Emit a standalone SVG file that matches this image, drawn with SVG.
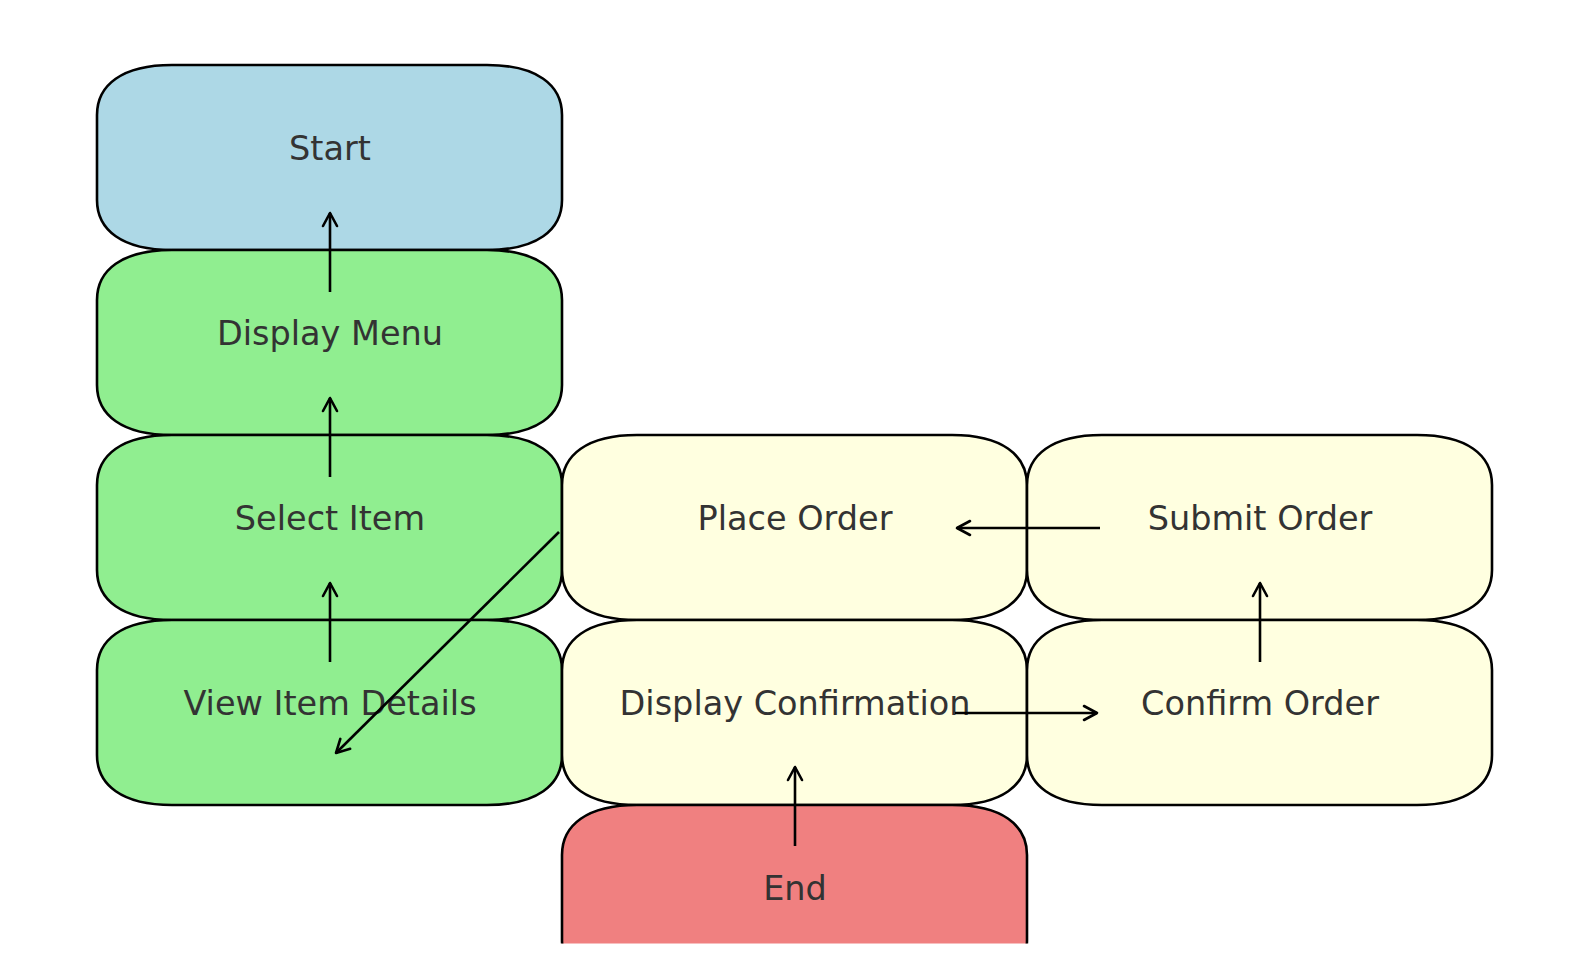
<svg xmlns="http://www.w3.org/2000/svg" width="1589" height="964" viewBox="0 0 1589 964">
<style>
.box{stroke:#000;stroke-width:2.6}
.lbl{font-family:"DejaVu Sans",sans-serif;font-size:33.5px;fill:#333333;text-anchor:middle}
.edge{stroke:#000;stroke-width:2.6;fill:none;marker-end:url(#arr)}
</style>
<defs>
<marker id="arr" markerUnits="userSpaceOnUse" markerWidth="30" markerHeight="30" refX="0" refY="0" viewBox="-20 -15 30 30" orient="auto" overflow="visible">
<path d="M-13,-7 L0,0 L-13,7" fill="none" stroke="#000" stroke-width="2.6" stroke-linecap="round" stroke-linejoin="round"/>
</marker>
<path id="shape" d="M75,0 H390 C440,0 465,20 465,50 V135 C465,165 440,185 390,185 H75 C25,185 0,165 0,135 V50 C0,20 25,0 75,0 Z"/>
<clipPath id="clip"><rect x="0" y="0" width="1589" height="943.5"/></clipPath>
</defs>
<rect width="1589" height="964" fill="#fff"/>
<g clip-path="url(#clip)">
<g id="start"><use href="#shape" class="box" x="97" y="65" fill="#ADD8E6"/><text class="lbl" x="330" y="160">Start</text></g>
<g id="display-menu"><use href="#shape" class="box" x="97" y="250" fill="#90EE90"/><text class="lbl" x="330" y="345">Display Menu</text></g>
<g id="select-item"><use href="#shape" class="box" x="97" y="435" fill="#90EE90"/><text class="lbl" x="330" y="530">Select Item</text></g>
<g id="view-item-details"><use href="#shape" class="box" x="97" y="620" fill="#90EE90"/><text class="lbl" x="330" y="715">View Item Details</text></g>
<g id="place-order"><use href="#shape" class="box" x="562" y="435" fill="#FFFFE0"/><text class="lbl" x="795" y="530">Place Order</text></g>
<g id="submit-order"><use href="#shape" class="box" x="1027" y="435" fill="#FFFFE0"/><text class="lbl" x="1260" y="530">Submit Order</text></g>
<g id="display-confirmation"><use href="#shape" class="box" x="562" y="620" fill="#FFFFE0"/><text class="lbl" x="795" y="715">Display Confirmation</text></g>
<g id="confirm-order"><use href="#shape" class="box" x="1027" y="620" fill="#FFFFE0"/><text class="lbl" x="1260" y="715">Confirm Order</text></g>
<g id="end"><use href="#shape" class="box" x="562" y="805" fill="#F08080"/><text class="lbl" x="795" y="900">End</text></g>
</g>
<g id="connectors">
<line class="edge" x1="330" y1="292" x2="330" y2="213"/>
<line class="edge" x1="330" y1="477" x2="330" y2="398"/>
<line class="edge" x1="330" y1="662" x2="330" y2="583"/>
<line class="edge" x1="559" y1="532" x2="336" y2="753"/>
<line class="edge" x1="1100" y1="528" x2="957" y2="528"/>
<line class="edge" x1="955" y1="713" x2="1097" y2="713"/>
<line class="edge" x1="1260" y1="662" x2="1260" y2="583"/>
<line class="edge" x1="795" y1="846" x2="795" y2="767"/>
</g>
</svg>
